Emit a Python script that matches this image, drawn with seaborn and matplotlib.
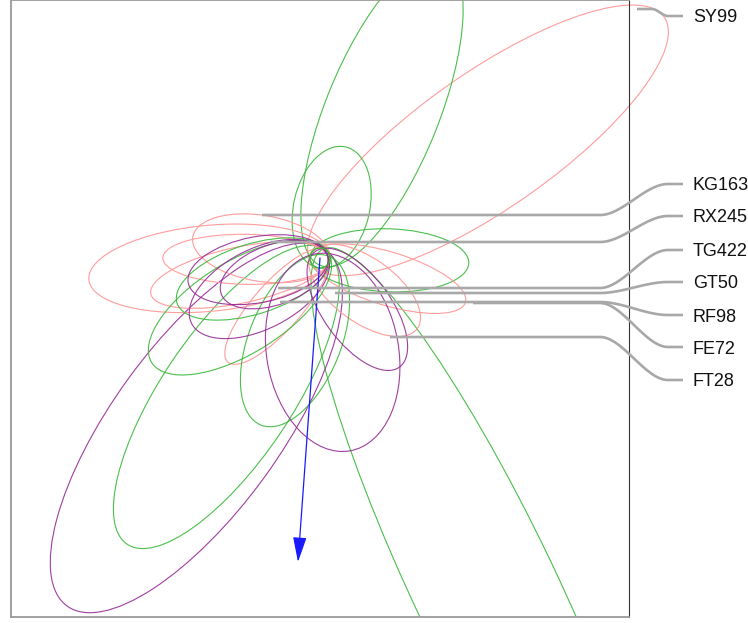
import numpy as np
import matplotlib
matplotlib.use("Agg")
import matplotlib.pyplot as plt
import seaborn as sns
from matplotlib.patches import Ellipse, Circle
from matplotlib.transforms import Bbox, TransformedBbox

# Projected orbits (AU, Sun at origin): ellipse centre, full major / minor axis, tilt (deg)
orbit_cx = [504, 186, 35, 208, 500, -281, -371, -332, -176, -221, -239, -128, 204, 134,
            -240, -200, -75, 112, 38, -186, -137, -182]
orbit_cy = [353, 437, 152, -7, -1002, -417, -510, -31, 29, -4, -51, -145, -62, -97,
            -149, -63, -248, -154, -283, -35, -50, -93]
orbit_major = [1290, 990, 372, 477, 2280, 1065, 1320, 726, 417, 501, 549, 447, 486, 390,
               624, 480, 546, 429, 600, 426, 339, 456]
orbit_minor = [408, 340, 228, 189, 426, 390, 504, 258, 198, 150, 168, 144, 160, 192,
               276, 210, 276, 204, 396, 198, 180, 240]
orbit_tilt = [35, 68, 77, -2, -64.5, 236, 234, 185.4, 170.6, 179, 192, 228.5, -17, -36,
              211.8, 197.5, -112, -53.9, -80, 190.7, 200, 207]
orbit_group = ["pink", "green", "green", "green", "green", "green", "purple", "pink", "pink",
               "pink", "pink", "pink", "pink", "pink", "green", "green", "green", "purple",
               "purple", "purple", "purple", "purple"]

# Neptune's orbit radius (AU)
neptune_r = 30

# Direction arrow (AU)
arrow_dx = -66
arrow_dy = -912

# Labelled objects: anchor point on the orbit (AU) and label height (AU)
label_names = ["SY99", "KG163", "RX245", "TG422", "GT50", "RF98", "FE72", "FT28"]
label_x0 = [951, -174, -150, -126, 45, -120, 459, 210]
label_y0 = [747, 129, 48, -90, -105, -132, -135, -237]
label_y = [726, 222, 126, 24, -72, -171, -267, -366]

group_colors = {"pink": "#ff9c9c", "green": "#38b838", "purple": "#962a96"}

sns.set_theme(style="white")
plt.rcParams["font.family"] = ["Liberation Sans", "DejaVu Sans"]

fig = plt.figure(figsize=(7.48, 6.23), dpi=100)
ax = fig.add_axes([11 / 748, 6 / 623, 618 / 748, 617 / 623])
ax.set_xlim(-927, 927)
ax.set_ylim(-1077, 774)
ax.set_xticks([])
ax.set_yticks([])
for side in ["left", "top", "bottom"]:
    ax.spines[side].set_color("#9a9a9a")
    ax.spines[side].set_linewidth(1.3)
ax.spines["right"].set_color("#333333")
ax.spines["right"].set_linewidth(0.8)

# orbits may spill over the right-hand frame but not past top/bottom
clip = TransformedBbox(Bbox([[0, 0], [2, 1.02]]), ax.transAxes)

for cx, cy, w, h, t, g in zip(orbit_cx, orbit_cy, orbit_major, orbit_minor, orbit_tilt, orbit_group):
    e = Ellipse((cx, cy), w, h, angle=t, fill=False, ec=group_colors[g], lw=0.8,
                alpha=0.9 if g != "pink" else 1.0, zorder=2)
    ax.add_patch(e)
    e.set_clip_box(clip)

ax.add_patch(Circle((0, 0), neptune_r, fill=False, ec=group_colors["green"], lw=0.9, zorder=2))

ax.annotate("", xy=(arrow_dx, arrow_dy), xytext=(0, 0),
            arrowprops=dict(arrowstyle="-|>,head_length=1.1,head_width=0.3", color="#1a1aff",
                            lw=0.9, mutation_scale=14, shrinkA=0, shrinkB=0), zorder=4)

# label connectors: horizontal run, then a smooth bend into the label row
bend_start, bend_end, stub_end, text_x = 840, 1044, 1089, 1119
tt = np.linspace(0, 1, 50)
ss = tt * tt * (3 - 2 * tt)
for name, x0, y0, ly in zip(label_names, label_x0, label_y0, label_y):
    xa = max(bend_start, x0 + 45)
    xs = np.concatenate([[x0], xa + (bend_end - xa) * tt, [stub_end]])
    ys = np.concatenate([[y0], y0 + (ly - y0) * ss, [ly]])
    ax.plot(xs, ys, color="#a8a8a8", lw=1.9, solid_capstyle="butt", clip_on=False, zorder=5)
    ax.text(text_x, ly - 6, name, ha="left", va="center", fontsize=13, color="#111111",
            clip_on=False)

fig.savefig("out.png", dpi=100)
